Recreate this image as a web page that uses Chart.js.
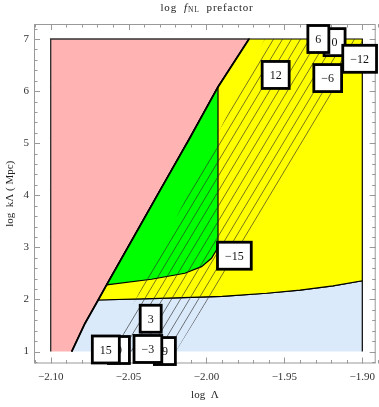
<!DOCTYPE html>
<html>
<head>
<meta charset="utf-8">
<title>log fNL prefactor</title>
<script src="https://cdn.jsdelivr.net/npm/chart.js@4.4.0/dist/chart.umd.min.js"></script>
<style>
body{margin:0;background:#fff;}
#wrap{width:379px;height:407px;}
</style>
</head>
<body>
<div id="wrap"><canvas id="myChart" width="379" height="407"></canvas></div>
<script>
var xTicks = [-2.10, -2.05, -2.00, -1.95, -1.90];
var yTicks = [1, 2, 3, 4, 5, 6, 7];
var frameX = [-2.10, -1.90];
var frameY = [1, 7];

// thick black boundary, bottom to top
var diagX = [-2.0865, -2.0780, -2.0695, -2.0641, -2.0467, -2.0297, -2.0107, -1.9926, -1.9727];
var diagY = [1.00, 1.54, 1.99, 2.28, 3.20, 4.10, 5.10, 6.08, 7.00];
// lower edge of the yellow zone
var lowX = [-2.0695, -2.0300, -1.9900, -1.9615, -1.9400, -1.9188, -1.9000];
var lowY = [1.99, 2.02, 2.06, 2.12, 2.18, 2.26, 2.36];
// bottom + right edge of the green zone
var greenX = [-2.0641, -2.0353, -2.0139, -2.0032, -1.9968, -1.9936, -1.9926, -1.9926];
var greenY = [2.28, 2.388, 2.503, 2.63, 2.79, 2.95, 3.14, 6.08];
// hatched band
var hatchX = [-2.0620, -1.9626, -1.9000, -1.9000, -2.0197];
var hatchY = [1.00, 7.00, 7.00, 6.735, 1.00];

// contour labels
var labelText = ['0', '6', '\u221212', '12', '\u22126', '\u221215', '3', '9', '15', '9', '\u22123'];
var labelX = [-1.9178, -1.9282, -1.9017, -1.9556, -1.9222, -1.9821, -2.0358, -2.0562, -2.0646, -2.0267, -2.0376];
var labelY = [6.94, 7.00, 6.62, 6.31, 6.25, 2.84, 1.63, 1.03, 1.04, 1.01, 1.05];

function pts(xs, ys) {
    return xs.map(function (x, i) { return {x: x, y: ys[i]}; });
}

var diag = pts(diagX, diagY);
var low = pts(lowX, lowY);
var greenEdge = pts(greenX, greenY);

var pink = [{x: frameX[0], y: frameY[0]}, {x: frameX[0], y: frameY[1]}].concat(diag.slice().reverse());
var blue = diag.slice(0, 3).concat(low.slice(1), [{x: frameX[1], y: frameY[0]}]);
var yellow = low.concat([{x: frameX[1], y: frameY[1]}], diag.slice(2).reverse());
var green = diag.slice(3, 8).concat(greenEdge.slice().reverse());
var hatchArea = pts(hatchX, hatchY);

// hatch pattern
var pc = document.createElement('canvas');
pc.width = 9; pc.height = 15;
var p = pc.getContext('2d');
p.strokeStyle = 'rgba(40,40,40,0.9)';
p.lineWidth = 0.7;
p.beginPath();
p.moveTo(0, 15); p.lineTo(9, 0);
p.moveTo(-9, 15); p.lineTo(0, 0);
p.moveTo(9, 15); p.lineTo(18, 0);
p.stroke();
var hatch = p.createPattern(pc, 'repeat');

function region(label, data, color, order, lw, border) {
    return {
        label: label,
        data: data,
        showLine: true,
        fill: 'shape',
        backgroundColor: color,
        borderColor: border || '#000',
        borderWidth: lw,
        pointRadius: 0,
        tension: 0,
        order: order
    };
}

var serif = '"Liberation Serif", "DejaVu Serif", serif';

var framePlugin = {
    id: 'frame',
    afterDraw: function (chart) {
        var ctx = chart.ctx;
        var a = chart.chartArea;
        var xs = chart.scales.x, ys = chart.scales.y;
        ctx.save();

        // frame + inward ticks
        ctx.strokeStyle = '#999';
        ctx.lineWidth = 1;
        ctx.strokeRect(a.left + 0.5, a.top + 0.5, a.right - a.left - 1, a.bottom - a.top - 1);
        ctx.beginPath();
        for (var i = 0; i <= 22; i++) {
            var v = -2.11 + i * 0.01;
            var px = Math.round(xs.getPixelForValue(v)) + 0.5;
            var len = (i % 5 === 1) ? 6 : 3.5;
            ctx.moveTo(px, a.bottom); ctx.lineTo(px, a.bottom - len);
            ctx.moveTo(px, a.top); ctx.lineTo(px, a.top + len);
        }
        for (var j = 0; j <= 32; j++) {
            var w = 0.8 + j * 0.2;
            var py = Math.round(ys.getPixelForValue(w)) + 0.5;
            var l2 = (j % 5 === 1) ? 6 : 3.5;
            ctx.moveTo(a.left, py); ctx.lineTo(a.left + l2, py);
            ctx.moveTo(a.right, py); ctx.lineTo(a.right - l2, py);
        }
        ctx.stroke();

        // tick labels
        ctx.fillStyle = '#333';
        ctx.font = '11px ' + serif;
        ctx.textAlign = 'center';
        ctx.textBaseline = 'middle';
        xTicks.forEach(function (t) {
            ctx.fillText('\u2212' + Math.abs(t).toFixed(2), xs.getPixelForValue(t), 377);
        });
        ctx.textAlign = 'right';
        yTicks.forEach(function (t) {
            ctx.fillText(String(t), 29, ys.getPixelForValue(t));
        });

        // axis titles
        ctx.textAlign = 'center';
        ctx.fillStyle = '#222';
        ctx.fillText('log  \u039b', (a.left + a.right) / 2, 395);
        ctx.save();
        ctx.translate(10.5, (a.top + a.bottom) / 2);
        ctx.rotate(-Math.PI / 2);
        ctx.fillText('log  k\u039b ( Mpc)', 0, 0);
        ctx.restore();

        // title: log f_NL prefactor
        ctx.letterSpacing = '0.8px';
        var parts = [['log  ', '11px ' + serif, 0], ['f', 'italic 11px ' + serif, 0],
                     ['NL', '7.5px ' + serif, 2.5], ['  prefactor', '11px ' + serif, 0]];
        var total = 0;
        parts.forEach(function (pt) { ctx.font = pt[1]; total += ctx.measureText(pt[0]).width; });
        var cx = 207 - total / 2;
        ctx.textAlign = 'left';
        parts.forEach(function (pt) {
            ctx.font = pt[1];
            ctx.fillText(pt[0], cx, 8 + pt[2]);
            cx += ctx.measureText(pt[0]).width;
        });
        ctx.letterSpacing = '0px';

        // contour labels
        ctx.font = '12px ' + serif;
        ctx.textAlign = 'center';
        for (var k = 0; k < labelText.length; k++) {
            var lx = xs.getPixelForValue(labelX[k]);
            var ly = ys.getPixelForValue(labelY[k]);
            var bw = ctx.measureText(labelText[k]).width + 15;
            var bh = 27;
            ctx.fillStyle = '#fff';
            ctx.fillRect(lx - bw / 2, ly - bh / 2, bw, bh);
            ctx.strokeStyle = '#000';
            ctx.lineWidth = 2.8;
            ctx.strokeRect(lx - bw / 2, ly - bh / 2, bw, bh);
            ctx.fillStyle = '#111';
            ctx.fillText(labelText[k], lx, ly + 1);
        }
        ctx.restore();
    }
};

var ctx = document.getElementById('myChart').getContext('2d');
var chart = new Chart(ctx, {
    type: 'scatter',
    data: {
        datasets: [
            {
                label: 'boundary',
                data: diag,
                showLine: true,
                fill: false,
                borderColor: '#000',
                borderWidth: 1.8,
                pointRadius: 0,
                order: -1
            },
            region('hatch', hatchArea, hatch, 0, 0, 'rgba(0,0,0,0)'),
            region('green', green, '#00ff00', 1, 1.2),
            region('yellow', yellow, '#ffff00', 2, 1.2),
            region('blue', blue, '#dbeafa', 3, 1.2),
            region('pink', pink, '#ffb3b3', 4, 1.4, '#333')
        ]
    },
    options: {
        responsive: false,
        animation: false,
        layout: {padding: {left: 34, right: 3.3, top: 24, bottom: 43.5}},
        scales: {
            x: {type: 'linear', min: -2.1107, max: -1.8914, display: false},
            y: {type: 'linear', min: 0.771, max: 7.288, display: false}
        },
        plugins: {
            legend: {display: false},
            tooltip: {enabled: false}
        }
    },
    plugins: [framePlugin]
});
</script>
</body>
</html>
